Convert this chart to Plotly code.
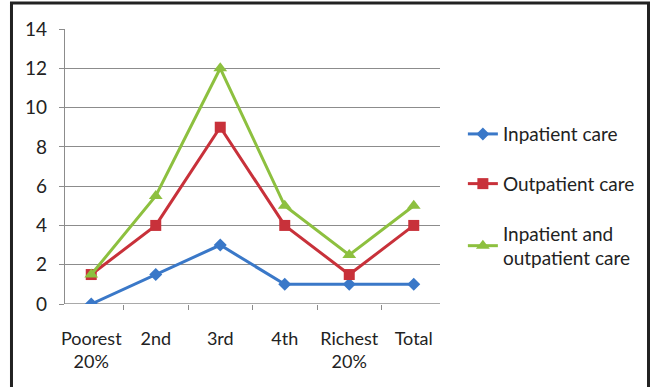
import plotly.graph_objects as go

categories = ["Poorest<br>20%", "2nd", "3rd", "4th", "Richest<br>20%", "Total"]
inpatient = [0, 1.5, 3, 1, 1, 1]
outpatient = [1.5, 4, 9, 4, 1.5, 4]
both = [1.5, 5.5, 12, 5, 2.5, 5]
y_ticks = [0, 2, 4, 6, 8, 10, 12, 14]

FONT = "Lato"

fig = go.Figure()
series = [
    ("Inpatient care", inpatient, "#3a78c8", "diamond", 10),
    ("Outpatient care", outpatient, "#c8313a", "square", 11),
    ("Inpatient and<br>outpatient care", both, "#8dc03f", "triangle-up", 12),
]
for i, (name, vals, color, symbol, size) in enumerate(series):
    fig.add_trace(go.Scatter(
        x=categories, y=vals, name=name, mode="lines+markers",
        line=dict(color=color, width=3),
        marker=dict(symbol=symbol, size=size, color=color),
        legendgroup=f"g{i}",
    ))

fig.update_layout(
    width=650, height=387,
    margin=dict(l=65, r=210, t=29, b=83, autoexpand=False),
    paper_bgcolor="white", plot_bgcolor="white",
    font=dict(family=FONT, size=18, color="#222"),
    showlegend=True,
    legend=dict(
        x=1.061, y=0.687, xanchor="left", yanchor="top",
        font=dict(family=FONT, size=19, color="#222"),
        traceorder="grouped", tracegroupgap=22,
        itemwidth=30, bgcolor="rgba(0,0,0,0)",
    ),
    xaxis=dict(
        type="category", showgrid=False, showline=False,
        ticks="outside", tickson="boundaries", ticklen=5,
        tickcolor="#8c8c8c", tickfont=dict(size=18), tickangle=0,
        ticklabelstandoff=22, zeroline=False, automargin=False,
    ),
    yaxis=dict(
        range=[0, 14], tickvals=y_ticks, showgrid=True,
        gridcolor="#8c8c8c", gridwidth=1.3,
        showline=True, linecolor="#8c8c8c", linewidth=1.3,
        ticks="outside", ticklen=5, tickcolor="#8c8c8c",
        tickfont=dict(size=19), ticklabelstandoff=8, zeroline=False,
        automargin=False,
    ),
    shapes=[
        # baseline along the category axis
        dict(type="line", xref="paper", yref="y", x0=0, x1=1, y0=0, y1=0,
             line=dict(color="#8c8c8c", width=1.3), layer="below"),
        # outer frame
        dict(type="rect", xref="paper", yref="paper",
             x0=-0.1427, x1=1.556, y0=-0.33, y1=1.0945,
             line=dict(color="#222", width=3)),
    ],
)

fig.write_html("out.html")
